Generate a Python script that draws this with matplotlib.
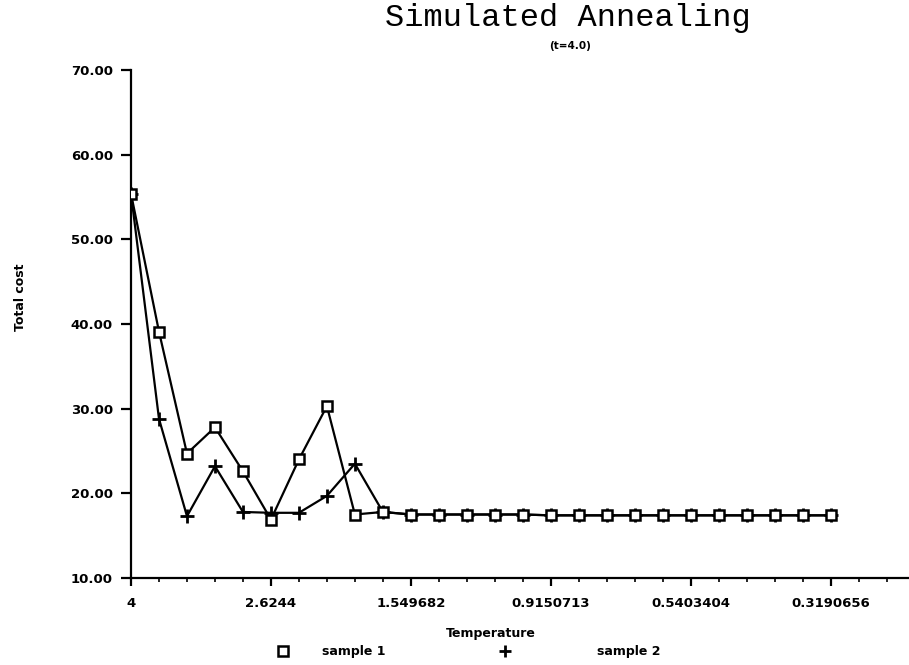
"""Total cost versus temperature for two annealing runs."""

import matplotlib
matplotlib.use('Agg')
import matplotlib.pyplot as plt
from matplotlib.lines import Line2D
from matplotlib.ticker import FixedLocator, MultipleLocator
import numpy as np

# Cost after each cooling step (26 steps, t starts at 4.0)
sample_1 = [55.4, 39.1, 24.7, 27.8, 22.6, 16.9, 24.0, 30.3, 17.5, 17.8,
            17.5, 17.5, 17.5, 17.5, 17.5, 17.4, 17.4, 17.4, 17.4, 17.4,
            17.4, 17.4, 17.4, 17.4, 17.4, 17.4]
sample_2 = [55.4, 28.8, 17.3, 23.2, 17.8, 17.7, 17.7, 19.7, 23.5, 17.8,
            17.5, 17.5, 17.5, 17.5, 17.5, 17.4, 17.4, 17.4, 17.4, 17.4,
            17.4, 17.4, 17.4, 17.4, 17.4, 17.4]

# Temperature labels shown at every fifth step
temp_labels = ["4", "2.6244", "1.549682", "0.9150713", "0.5403404", "0.3190656"]
label_steps = [0, 5, 10, 15, 20, 25]

y_ticks = [10, 20, 30, 40, 50, 60, 70]

W, H = 909, 665
fig = plt.figure(figsize=(W / 100, H / 100), dpi=100, facecolor="white")
ax = fig.add_axes([131 / W, 1 - 578 / H, 1 - 131 / W, (578 - 70) / H])

steps = np.arange(len(sample_1))
ax.plot(steps, sample_2, color="black", lw=1.6, marker="+", ms=10, mew=2, zorder=3)
ax.plot(steps, sample_1, color="black", lw=1.6, marker="s", ms=7.5, mew=1.8,
        mfc="white", mec="black", zorder=4)

ax.set_xlim(0, 27.8)
ax.set_ylim(10, 70)

for s in ["top", "right"]:
    ax.spines[s].set_visible(False)
for s in ["left", "bottom"]:
    ax.spines[s].set_linewidth(1.6)

ax.xaxis.set_major_locator(FixedLocator(label_steps))
ax.set_xticklabels(temp_labels, fontsize=9.5, fontweight="bold")
ax.xaxis.set_minor_locator(MultipleLocator(1))
ax.yaxis.set_major_locator(FixedLocator(y_ticks))
ax.set_yticklabels([f"{v:.2f}" for v in y_ticks], fontsize=9.5, fontweight="bold")
ax.tick_params(axis="x", which="major", direction="out", length=6, width=1.6, pad=8)
ax.tick_params(axis="x", which="minor", direction="out", length=3, width=1.2)
ax.tick_params(axis="y", which="major", direction="out", length=7, width=1.6, pad=6)

# titles and axis captions
fig.text(568 / W, 1 - 18 / H, "Simulated Annealing", family="Liberation Mono",
         fontsize=23, ha="center", va="center")
fig.text(570 / W, 1 - 46 / H, "(t=4.0)", fontsize=7.5, fontweight="bold",
         ha="center", va="center")
fig.text(20 / W, 1 - 297 / H, "Total cost", rotation=90, fontsize=9,
         fontweight="bold", ha="center", va="center")
fig.text(491 / W, 1 - 634 / H, "Temperature", fontsize=9, fontweight="bold",
         ha="center", va="center")

# legend row under the axis caption
fig.add_artist(Line2D([283 / W], [1 - 651 / H], marker="s", ms=7, mew=1.8,
                      mfc="white", mec="black", ls="none"))
fig.text(322 / W, 1 - 651 / H, "sample 1", fontsize=9, fontweight="bold", va="center")
fig.add_artist(Line2D([505 / W], [1 - 651 / H], marker="+", ms=8, mew=2,
                      color="black", ls="none"))
fig.text(597 / W, 1 - 651 / H, "sample 2", fontsize=9, fontweight="bold", va="center")

fig.savefig("out.png", dpi=100, facecolor="white")
